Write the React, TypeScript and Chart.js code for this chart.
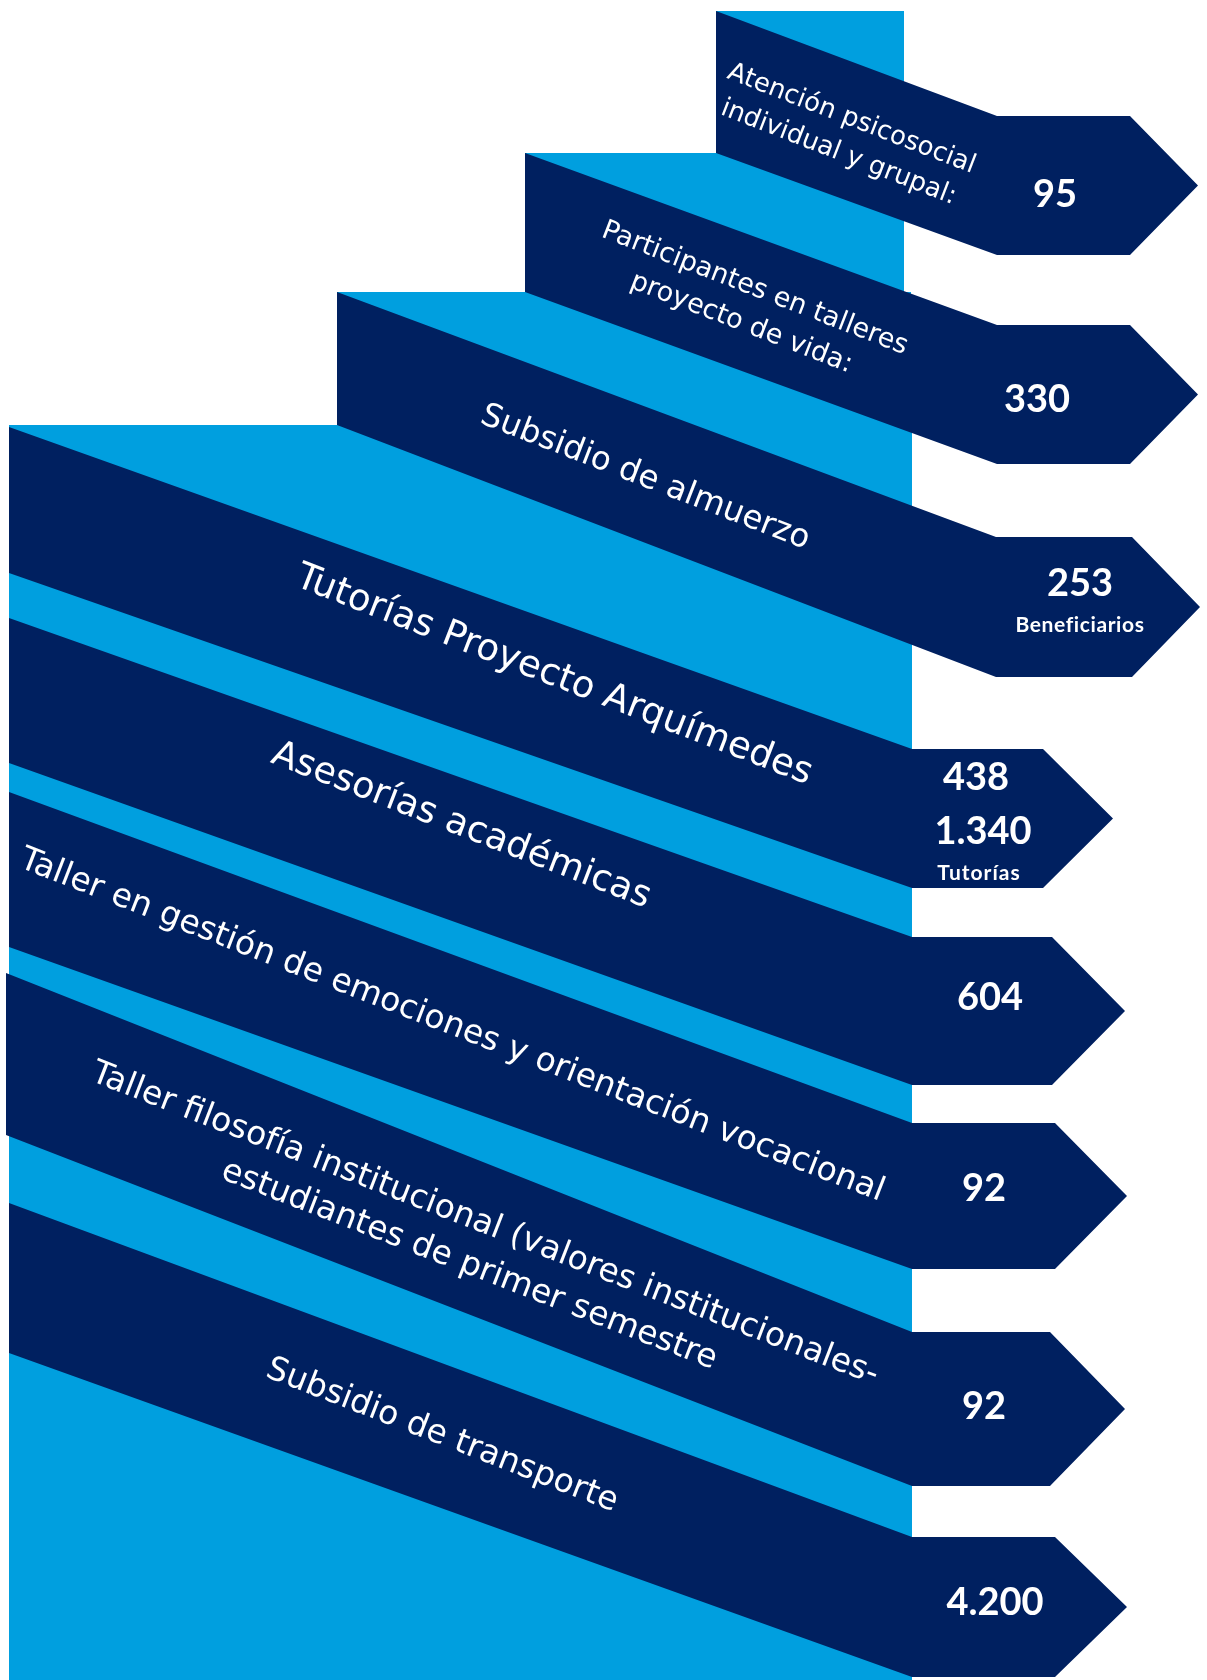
import React, { useEffect, useRef } from "react";
import { Chart, registerables } from "chart.js";

Chart.register(...registerables);

// ---------- DATA ----------
const categories: string[][] = [
  ["Atención psicosocial", "individual y grupal:"],
  ["Participantes en talleres", "proyecto de vida:"],
  ["Subsidio de almuerzo"],
  ["Tutorías Proyecto Arquímedes"],
  ["Asesorías académicas"],
  ["Taller en gestión de emociones y orientación vocacional"],
  ["Taller filosofía institucional (valores institucionales-", "estudiantes de primer semestre"],
  ["Subsidio de transporte"],
];
const mainValues: number[] = [95, 330, 253, 438, 604, 92, 92, 4200];
const secondValues: (number | null)[] = [null, null, null, 1340, null, null, null, null];
const valueUnits: string[] = ["", "", "Beneficiarios", "Tutorías", "", "", "", ""];

// ---------- LAYOUT (page units) ----------
const W = 1207;
const H = 1680;
const NAVY = "#002060";
const LIGHT = "#009FDF";

// light-blue staircase
const stepLeft = [716, 525, 337, 9];
const stepTop = [11, 153, 292, 425];
const stepRight = [904, 904, 911, 912];

// navy bands
const bandLeftX = [716, 525, 337, 9, 9, 9, 6, 9];
const bandLeftTop = [11, 153, 292, 427, 618, 792, 973, 1203];
const bandLeftBottom = [153, 292, 425, 573, 763, 947, 1135, 1353];
const arrowStartX = [997, 997, 996, 912, 912, 912, 912, 912];
const arrowTop = [116, 325, 537, 749, 937, 1123, 1332, 1537];
const arrowBottom = [255, 464, 677, 888, 1085, 1269, 1486, 1677];
const arrowNeckX = [1130, 1130, 1132, 1043, 1052, 1055, 1050, 1055];
const arrowTipX = [1198, 1198, 1200, 1113, 1125, 1127, 1125, 1127];

// band label placement
const labelCX = [845, 748, 645, 554, 461, 452, 477, 442];
const labelCY = [136, 306, 478, 676, 826, 1026, 1245, 1436];
const labelSize = [26, 27, 32.5, 37, 36.5, 33, 33, 33];
const labelLine = [36, 37, 40, 40, 40, 40, 44, 40];
const labelAngleDeg = 21.2;

// value placement
const valueX = [1055, 1037, 1080, 976, 990, 984, 984, 995];
const valueY = [195, 400, 584, 778, 998, 1189, 1407, 1603];

function fmt(n: number): string {
  const s = String(Math.round(n));
  return s.replace(/\B(?=(\d{3})+(?!\d))/g, ".");
}

const stairsPlugin = {
  id: "stairs",
  beforeDatasetsDraw(chart: any) {
    const { ctx } = chart;
    const xs = chart.scales.x;
    const ys = chart.scales.y;
    const px = (v: number) => xs.getPixelForValue(v);
    const py = (v: number) => ys.getPixelForValue(v);
    ctx.save();

    // staircase background
    ctx.fillStyle = LIGHT;
    for (let i = 0; i < stepLeft.length; i++) {
      const x0 = px(stepLeft[i]);
      const y0 = py(stepTop[i]);
      ctx.fillRect(x0, y0, px(stepRight[i]) - x0, py(H) - y0);
    }

    // bands with arrow heads
    ctx.fillStyle = NAVY;
    for (let i = 0; i < categories.length; i++) {
      const mid = (arrowTop[i] + arrowBottom[i]) / 2;
      ctx.beginPath();
      ctx.moveTo(px(bandLeftX[i]), py(bandLeftTop[i]));
      ctx.lineTo(px(arrowStartX[i]), py(arrowTop[i]));
      ctx.lineTo(px(arrowNeckX[i]), py(arrowTop[i]));
      ctx.lineTo(px(arrowTipX[i]), py(mid));
      ctx.lineTo(px(arrowNeckX[i]), py(arrowBottom[i]));
      ctx.lineTo(px(arrowStartX[i]), py(arrowBottom[i]));
      ctx.lineTo(px(bandLeftX[i]), py(bandLeftBottom[i]));
      ctx.closePath();
      ctx.fill();
    }

    // rotated category labels
    ctx.fillStyle = "#ffffff";
    ctx.textAlign = "center";
    ctx.textBaseline = "middle";
    const ang = (labelAngleDeg * Math.PI) / 180;
    for (let i = 0; i < categories.length; i++) {
      const lines = categories[i];
      ctx.save();
      ctx.translate(px(labelCX[i]), py(labelCY[i]));
      ctx.rotate(ang);
      ctx.font = `${labelSize[i]}px "DejaVu Sans", Verdana, sans-serif`;
      const n = lines.length;
      for (let j = 0; j < n; j++) {
        ctx.fillText(lines[j], 0, (j - (n - 1) / 2) * labelLine[i]);
      }
      ctx.restore();
    }

    // values
    for (let i = 0; i < mainValues.length; i++) {
      let yy = py(valueY[i]);
      const xx = px(valueX[i]);
      ctx.font = `bold 38px Lato, "Open Sans", sans-serif`;
      ctx.fillText(fmt(mainValues[i]), xx, yy);
      const sv = secondValues[i];
      if (sv !== null) {
        yy += 54;
        ctx.fillText(fmt(sv), xx + 7, yy);
      }
      if (valueUnits[i]) {
        yy += 41;
        ctx.font = `bold 21px Lato, "Open Sans", sans-serif`;
        (ctx as any).letterSpacing = sv !== null ? "1px" : "0.6px";
        ctx.fillText(valueUnits[i], xx + (sv !== null ? 3 : 0), yy);
        (ctx as any).letterSpacing = "0px";
      }
    }
    ctx.restore();
  },
};

export default function App() {
  const ref = useRef<HTMLCanvasElement>(null);
  useEffect(() => {
    document.body.style.margin = "0";
    const canvas = ref.current;
    if (!canvas) return;
    const chart = new Chart(canvas, {
      type: "scatter",
      data: {
        datasets: [
          {
            label: "Beneficiarios",
            data: mainValues.map((_, i) => ({ x: valueX[i], y: valueY[i] })),
            pointRadius: 0,
            showLine: false,
          },
        ],
      },
      options: {
        animation: false,
        responsive: false,
        events: [],
        layout: { padding: 0 },
        plugins: { legend: { display: false }, tooltip: { enabled: false } },
        scales: {
          x: { type: "linear", min: 0, max: W, display: false },
          y: { type: "linear", min: 0, max: H, reverse: true, display: false },
        },
      },
      plugins: [stairsPlugin],
    });
    return () => chart.destroy();
  }, []);
  return (
    <div style={{ width: W, height: H, overflow: "hidden" }}>
      <canvas ref={ref} width={W} height={H} style={{ display: "block" }} />
    </div>
  );
}
